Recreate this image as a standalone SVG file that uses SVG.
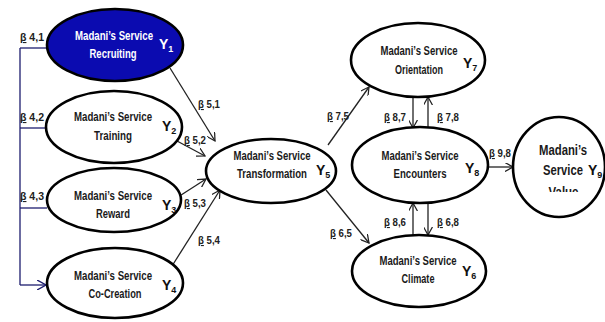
<svg xmlns="http://www.w3.org/2000/svg" width="605" height="322" viewBox="0 0 605 322">
<style>
.n{fill:#fff;stroke:#000;stroke-width:2.6}
.t{font-family:"Liberation Sans Narrow","Arial Narrow","Liberation Sans",sans-serif;font-weight:bold;font-size:12px;fill:#1a1a1a;text-anchor:middle}
.y{font-family:"Liberation Sans Narrow","Arial Narrow","Liberation Sans",sans-serif;font-weight:bold;font-size:14px;fill:#111}
.y tspan{font-size:9px}
.b{font-family:"Liberation Sans Narrow","Arial Narrow","Liberation Sans",sans-serif;font-weight:bold;font-size:11px;fill:#222}
.e{fill:none;stroke:#222;stroke-width:1.3}
.nv{fill:none;stroke:#1c1c6e;stroke-width:1.3}
</style>
<defs>
<marker id="a" viewBox="0 0 10 10" refX="9" refY="5" markerWidth="9" markerHeight="9" markerUnits="userSpaceOnUse" orient="auto">
<path d="M0,0 L9,5 L0,10" fill="none" stroke="#222" stroke-width="1.4"/>
</marker>
<marker id="an" viewBox="0 0 10 10" refX="9" refY="5" markerWidth="10" markerHeight="10" markerUnits="userSpaceOnUse" orient="auto">
<path d="M0,0 L9,5 L0,10" fill="none" stroke="#1c1c6e" stroke-width="1.4"/>
</marker>
<clipPath id="cv"><rect x="510" y="100" width="95" height="92"/></clipPath>
</defs>
<g id="connectors">
<path class="nv" d="M20,48 V285"/>
<path class="nv" d="M20,48 H48"/>
<path class="nv" d="M20,128 H47"/>
<path class="nv" d="M20,208 H47"/>
<path class="nv" d="M20,285 H46" marker-end="url(#an)"/>
<path class="e" d="M170,68 L215,141" marker-end="url(#a)"/>
<path class="e" d="M177,141 L205,156" marker-end="url(#a)"/>
<path class="e" d="M178,197 L206,179" marker-end="url(#a)"/>
<path class="e" d="M172,266 L220,190" marker-end="url(#a)"/>
<path class="e" d="M328,145 L369,87" marker-end="url(#a)"/>
<path class="e" d="M326,190 L369,243" marker-end="url(#a)"/>
<path class="e" d="M413,97 V128" marker-end="url(#a)"/>
<path class="e" d="M428,128 V97" marker-end="url(#a)"/>
<path class="e" d="M413,235 V203" marker-end="url(#a)"/>
<path class="e" d="M428,203 V235" marker-end="url(#a)"/>
<path class="e" d="M488,167 H513" marker-end="url(#a)"/>
<text class="b" x="20" y="41" textLength="24" lengthAdjust="spacingAndGlyphs"><tspan text-decoration="underline">β</tspan> 4,1</text>
<text class="b" x="20" y="121" textLength="24" lengthAdjust="spacingAndGlyphs"><tspan text-decoration="underline">β</tspan> 4,2</text>
<text class="b" x="20" y="200" textLength="24" lengthAdjust="spacingAndGlyphs"><tspan text-decoration="underline">β</tspan> 4,3</text>
<text class="b" x="198" y="108" textLength="22" lengthAdjust="spacingAndGlyphs"><tspan text-decoration="underline">β</tspan> 5,1</text>
<text class="b" x="184" y="144" textLength="22" lengthAdjust="spacingAndGlyphs"><tspan text-decoration="underline">β</tspan> 5,2</text>
<text class="b" x="184" y="207" textLength="22" lengthAdjust="spacingAndGlyphs"><tspan text-decoration="underline">β</tspan> 5,3</text>
<text class="b" x="198" y="244" textLength="22" lengthAdjust="spacingAndGlyphs"><tspan text-decoration="underline">β</tspan> 5,4</text>
<text class="b" x="327" y="120" textLength="22" lengthAdjust="spacingAndGlyphs"><tspan text-decoration="underline">β</tspan> 7,5</text>
<text class="b" x="330" y="237" textLength="22" lengthAdjust="spacingAndGlyphs"><tspan text-decoration="underline">β</tspan> 6,5</text>
<text class="b" x="384" y="121" textLength="22" lengthAdjust="spacingAndGlyphs"><tspan text-decoration="underline">β</tspan> 8,7</text>
<text class="b" x="437" y="121" textLength="22" lengthAdjust="spacingAndGlyphs"><tspan text-decoration="underline">β</tspan> 7,8</text>
<text class="b" x="384" y="226" textLength="22" lengthAdjust="spacingAndGlyphs"><tspan text-decoration="underline">β</tspan> 8,6</text>
<text class="b" x="437" y="226" textLength="22" lengthAdjust="spacingAndGlyphs"><tspan text-decoration="underline">β</tspan> 6,8</text>
<text class="b" x="489" y="157" textLength="22" lengthAdjust="spacingAndGlyphs"><tspan text-decoration="underline">β</tspan> 9,8</text>
</g>
<g id="Y1">
<ellipse cx="115" cy="45" rx="68" ry="36" fill="#0b0bb0" stroke="#000" stroke-width="2.6"/>
<text class="t" x="114" y="40" style="fill:#fff" textLength="78" lengthAdjust="spacingAndGlyphs">Madani’s Service</text>
<text class="t" x="113" y="58" style="fill:#fff" textLength="47" lengthAdjust="spacingAndGlyphs">Recruiting</text>
<text class="y" x="159" y="49" style="fill:#fff">Y<tspan dy="3">1</tspan></text>
</g>
<g id="Y2">
<ellipse class="n" cx="114" cy="127" rx="68" ry="36"/>
<text class="t" x="113" y="121" textLength="78" lengthAdjust="spacingAndGlyphs">Madani’s Service</text>
<text class="t" x="113" y="140" textLength="38" lengthAdjust="spacingAndGlyphs">Training</text>
<text class="y" x="162" y="131">Y<tspan dy="3">2</tspan></text>
</g>
<g id="Y3">
<ellipse class="n" cx="114" cy="200" rx="67" ry="32"/>
<text class="t" x="113" y="200" textLength="78" lengthAdjust="spacingAndGlyphs">Madani’s Service</text>
<text class="t" x="113" y="218" textLength="34" lengthAdjust="spacingAndGlyphs">Reward</text>
<text class="y" x="162" y="210">Y<tspan dy="3">3</tspan></text>
</g>
<g id="Y4">
<ellipse class="n" cx="115" cy="283" rx="68" ry="35"/>
<text class="t" x="113" y="280" textLength="78" lengthAdjust="spacingAndGlyphs">Madani’s Service</text>
<text class="t" x="115" y="298" textLength="53" lengthAdjust="spacingAndGlyphs">Co-Creation</text>
<text class="y" x="162" y="290">Y<tspan dy="3">4</tspan></text>
</g>
<g id="Y5">
<ellipse class="n" cx="271" cy="171" rx="65" ry="32"/>
<text class="t" x="272" y="160" textLength="77" lengthAdjust="spacingAndGlyphs">Madani’s Service</text>
<text class="t" x="272" y="178" textLength="70" lengthAdjust="spacingAndGlyphs">Transformation</text>
<text class="y" x="316" y="175">Y<tspan dy="3">5</tspan></text>
</g>
<g id="Y7">
<ellipse class="n" cx="418" cy="60" rx="67" ry="37"/>
<text class="t" x="419" y="55" textLength="77" lengthAdjust="spacingAndGlyphs">Madani’s Service</text>
<text class="t" x="419" y="74" textLength="48" lengthAdjust="spacingAndGlyphs">Orientation</text>
<text class="y" x="463" y="68">Y<tspan dy="3">7</tspan></text>
</g>
<g id="Y8">
<ellipse class="n" cx="420" cy="165" rx="68" ry="38"/>
<text class="t" x="420" y="160" textLength="77" lengthAdjust="spacingAndGlyphs">Madani’s Service</text>
<text class="t" x="420" y="178" textLength="53" lengthAdjust="spacingAndGlyphs">Encounters</text>
<text class="y" x="465" y="173">Y<tspan dy="3">8</tspan></text>
</g>
<g id="Y6">
<ellipse class="n" cx="419" cy="271" rx="67" ry="36"/>
<text class="t" x="418" y="265" textLength="77" lengthAdjust="spacingAndGlyphs">Madani’s Service</text>
<text class="t" x="418" y="283" textLength="33" lengthAdjust="spacingAndGlyphs">Climate</text>
<text class="y" x="462" y="276">Y<tspan dy="3">6</tspan></text>
</g>
<g id="Y9">
<ellipse class="n" cx="559" cy="167" rx="46" ry="50"/>
<text class="t" x="563" y="155" style="font-size:14px" textLength="48" lengthAdjust="spacingAndGlyphs">Madani’s</text>
<text class="t" x="563" y="175" style="font-size:14px" textLength="40" lengthAdjust="spacingAndGlyphs">Service</text>
<text class="y" x="588" y="175">Y<tspan dy="3">9</tspan></text>
<text class="t" x="563.5" y="197" style="font-size:14px" clip-path="url(#cv)" textLength="30" lengthAdjust="spacingAndGlyphs">Value</text>
</g>
</svg>
